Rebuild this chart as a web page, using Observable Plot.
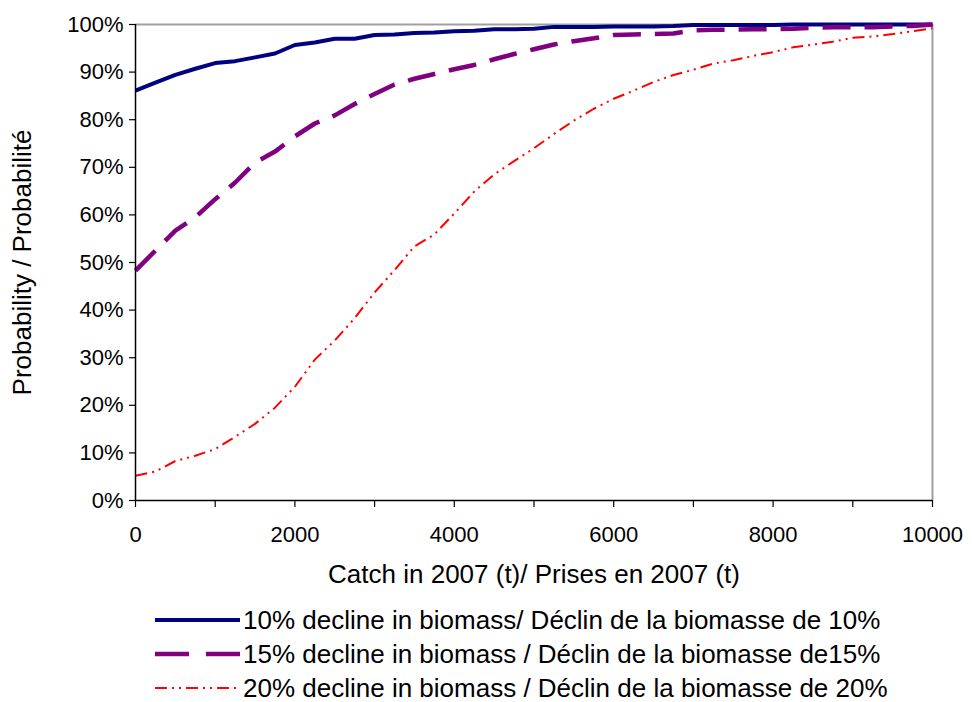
<!DOCTYPE html>
<html>
<head>
<meta charset="utf-8">
<script src="https://cdn.jsdelivr.net/npm/d3@7"></script>
<script src="https://cdn.jsdelivr.net/npm/@observablehq/plot@0.6"></script>
<style>
  body { margin: 0; background: #fff; font-family: "Liberation Sans", Arial, sans-serif; color: #000; }
  #chart { width: 972px; }
  .legend { margin-left: 155px; }
  .row { display: flex; align-items: center; height: 34px; font-size: 26px; white-space: nowrap; }
  .row svg { flex: none; margin-right: 3px; }
</style>
</head>
<body>
<div id="chart"></div>
<script>
// Catch levels in 2007 (tonnes)
const catchLevels = [
  0, 250, 500, 750, 1000, 1250, 1500, 1750, 2000, 2250,
  2500, 2750, 3000, 3250, 3500, 3750, 4000, 4250, 4500, 4750,
  5000, 5250, 5500, 5750, 6000, 6250, 6500, 6750, 7000, 7250,
  7500, 7750, 8000, 8250, 8500, 8750, 9000, 9250, 9500, 9750, 10000
];

// Probability (%) of each biomass decline at the given catch
const decline10 = [
  86.1, 87.8, 89.4, 90.7, 91.9, 92.3, 93.1, 93.9, 95.7, 96.2,
  97.0, 97.0, 97.8, 97.9, 98.2, 98.3, 98.6, 98.7, 99.0, 99.0,
  99.1, 99.5, 99.5, 99.5, 99.6, 99.6, 99.6, 99.7, 99.9, 99.9,
  99.9, 99.9, 99.9, 100, 100, 100, 100, 100, 100, 100, 100
];
const decline15 = [
  48.3, 52.5, 56.7, 59.5, 63.3, 66.8, 71.0, 73.3, 76.5, 79.2,
  80.9, 83.3, 85.4, 87.4, 88.6, 89.6, 90.6, 91.5, 92.7, 93.8,
  94.8, 95.8, 96.5, 97.1, 97.8, 97.9, 98.0, 98.1, 98.8, 98.9,
  98.9, 99.0, 99.0, 99.1, 99.3, 99.4, 99.4, 99.4, 99.6, 99.7, 100
];
const decline20 = [
  5.2, 6.1, 8.3, 9.4, 10.8, 13.4, 16.1, 19.5, 23.9, 29.6,
  33.6, 38.3, 43.7, 48.4, 53.4, 55.9, 60.3, 64.9, 68.5, 71.3,
  74.0, 77.0, 79.8, 82.3, 84.4, 86.1, 87.9, 89.4, 90.5, 91.8,
  92.5, 93.4, 94.2, 95.2, 95.8, 96.4, 97.2, 97.5, 98.0, 98.6, 99.2
];

const seriesNames = [
  "10% decline in biomass/ Déclin de la biomasse de 10%",
  "15% decline in biomass / Déclin de la biomasse de15%",
  "20% decline in biomass / Déclin de la biomasse de 20%"
];

const xTicks = [0, 1000, 2000, 3000, 4000, 5000, 6000, 7000, 8000, 9000, 10000];
const xTickLabels = ["0", "", "2000", "", "4000", "", "6000", "", "8000", "", "10000"];
const yTicks = [0, 10, 20, 30, 40, 50, 60, 70, 80, 90, 100];
const xTitle = "Catch in 2007 (t)/ Prises en 2007 (t)";
const yTitle = "Probability / Probabilité";

// Line styles per series
const styles = [
  { stroke: "#000080", strokeWidth: 4, dash: null, legendDash: null },
  { stroke: "#800080", strokeWidth: 4.5, dash: "28,14", legendDash: "34,17" },
  { stroke: "#ff0000", strokeWidth: 2, dash: "12,5,2,5,2,5", legendDash: "12,5,2,5,2,5" }
];

const seriesValues = [decline10, decline15, decline20];
const rows = seriesValues.flatMap((vals, i) =>
  vals.map((v, j) => ({ series: i, x: catchLevels[j], y: v }))
);

const font = "Liberation Sans, Arial, sans-serif";

const lineMarks = styles.map((s, i) =>
  Plot.line(rows.filter(d => d.series === i), {
    x: "x", y: "y",
    stroke: s.stroke, strokeWidth: s.strokeWidth,
    strokeDasharray: s.dash, strokeLinejoin: "round", strokeLinecap: "butt"
  })
);

const plot = Plot.plot({
  width: 972,
  height: 603,
  marginLeft: 135,
  marginRight: 40,
  marginTop: 24,
  marginBottom: 103,
  style: { fontFamily: font, fontSize: "22px", color: "#000", background: "#fff", overflow: "visible" },
  x: { domain: [0, 10000] },
  y: { domain: [0, 100] },
  marks: [
    Plot.ruleY([100], { stroke: "#a0a0a0", strokeWidth: 2 }),
    Plot.ruleX([10000], { stroke: "#a0a0a0", strokeWidth: 2 }),
    ...lineMarks,
    Plot.ruleX([0], { stroke: "#000", strokeWidth: 1.5 }),
    Plot.ruleY([0], { stroke: "#000", strokeWidth: 1.5 }),
    Plot.axisY({
      ticks: yTicks, tickFormat: d => d + "%", tickSize: 6, tickPadding: 6,
      label: null, fontSize: 22, stroke: "#000", strokeWidth: 1.2
    }),
    Plot.axisX({
      ticks: xTicks, tickFormat: d => xTickLabels[xTicks.indexOf(d)],
      tickSize: 7, tickPadding: 19, label: null, fontSize: 22, stroke: "#000", strokeWidth: 1.2
    }),
    Plot.text([xTitle], { frameAnchor: "bottom", dy: 82, fontSize: 26, fill: "#000" }),
    Plot.text([yTitle], {
      frameAnchor: "left", textAnchor: "middle", dx: -113, rotate: -90, fontSize: 26, fill: "#000"
    })
  ]
});

const chart = document.getElementById("chart");
chart.appendChild(plot);

// Legend below the plot
const legend = document.createElement("div");
legend.className = "legend";
styles.forEach((s, i) => {
  const row = document.createElement("div");
  row.className = "row";
  const sw = d3.create("svg").attr("width", 85).attr("height", 10);
  sw.append("line")
    .attr("x1", 0).attr("x2", 85).attr("y1", 5).attr("y2", 5)
    .attr("stroke", s.stroke)
    .attr("stroke-width", s.strokeWidth)
    .attr("stroke-dasharray", s.legendDash);
  row.appendChild(sw.node());
  const label = document.createElement("span");
  label.textContent = seriesNames[i];
  row.appendChild(label);
  legend.appendChild(row);
});
chart.appendChild(legend);
</script>
</body>
</html>
